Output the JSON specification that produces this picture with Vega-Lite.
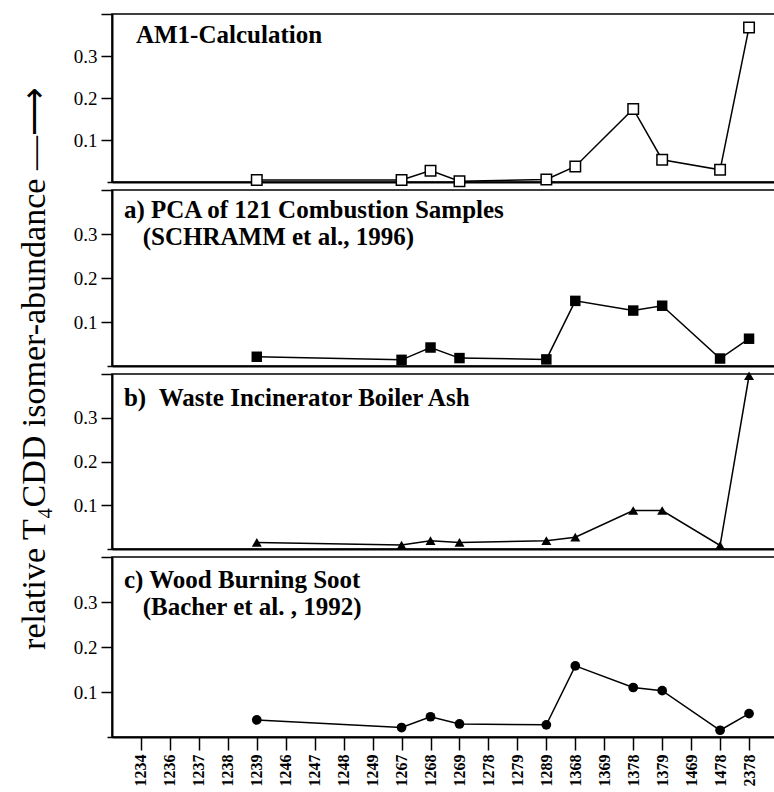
{
  "$schema": "https://vega.github.io/schema/vega-lite/v6.json",
  "padding": {"left": 16, "top": 12, "right": 0, "bottom": 0},
  "background": "white",
  "spacing": 8,
  "bounds": "flush",
  "config": {
    "view": {"stroke": "black", "strokeWidth": 1.5},
    "font": "Liberation Serif",
    "axis": {
      "labelFont": "Liberation Serif",
      "titleFont": "Liberation Serif",
      "domainColor": "black",
      "tickColor": "black",
      "labelColor": "black",
      "titleColor": "black",
      "grid": false
    },
    "axisY": {
      "values": [0.02,0.04,0.06,0.08,0.1,0.12,0.14,0.16,0.18,0.2,0.22,0.24,0.26,0.28,0.3,0.32,0.34,0.36,0.38,0.4],
      "labelExpr": "datum.value==0.1||datum.value==0.2||datum.value==0.3 ? format(datum.value,'.1f') : ''",
      "tickSize": {"condition": {"test": "datum.value==0.1||datum.value==0.2||datum.value==0.3||datum.value==0.4", "value": 11}, "value": 5},
      "tickWidth": 1.5, "domainWidth": 2, "labelFontSize": 19, "labelPadding": 4
    },
    "axisX": {"domainWidth": 2}
  },
  "datasets": {
    "am1": [
      {"isomer": "1239", "value": 0.005},
      {"isomer": "1267", "value": 0.005},
      {"isomer": "1268", "value": 0.027},
      {"isomer": "1269", "value": 0.002},
      {"isomer": "1289", "value": 0.006},
      {"isomer": "1368", "value": 0.037},
      {"isomer": "1378", "value": 0.174},
      {"isomer": "1379", "value": 0.053},
      {"isomer": "1478", "value": 0.029},
      {"isomer": "2378", "value": 0.368}
    ],
    "pca": [
      {"isomer": "1239", "value": 0.021},
      {"isomer": "1267", "value": 0.014},
      {"isomer": "1268", "value": 0.042},
      {"isomer": "1269", "value": 0.018},
      {"isomer": "1289", "value": 0.015},
      {"isomer": "1368", "value": 0.148},
      {"isomer": "1378", "value": 0.126},
      {"isomer": "1379", "value": 0.137},
      {"isomer": "1478", "value": 0.017},
      {"isomer": "2378", "value": 0.062}
    ],
    "ash": [
      {"isomer": "1239", "value": 0.015},
      {"isomer": "1267", "value": 0.009},
      {"isomer": "1268", "value": 0.019},
      {"isomer": "1269", "value": 0.015},
      {"isomer": "1289", "value": 0.019},
      {"isomer": "1368", "value": 0.027},
      {"isomer": "1378", "value": 0.088},
      {"isomer": "1379", "value": 0.088},
      {"isomer": "1478", "value": 0.008},
      {"isomer": "2378", "value": 0.396}
    ],
    "soot": [
      {"isomer": "1239", "value": 0.038},
      {"isomer": "1267", "value": 0.021},
      {"isomer": "1268", "value": 0.045},
      {"isomer": "1269", "value": 0.029},
      {"isomer": "1289", "value": 0.027},
      {"isomer": "1368", "value": 0.158},
      {"isomer": "1378", "value": 0.110},
      {"isomer": "1379", "value": 0.103},
      {"isomer": "1478", "value": 0.015},
      {"isomer": "2378", "value": 0.052}
    ]
  },
  "vconcat": [
    {
      "width": 666,
      "height": 168,
      "layer": [
        {"data": {"name": "am1"}, "mark": {"type": "line", "color": "black", "strokeWidth": 1.5},
          "encoding": {
            "x": {"field": "isomer", "type": "ordinal",
              "scale": {"type": "point", "padding": 1.04, "domain": ["1234","1236","1237","1238","1239","1246","1247","1248","1249","1267","1268","1269","1278","1279","1289","1368","1369","1378","1379","1469","1478","2378"]},
              "axis": {"title": null, "labels": false, "ticks": false}},
            "y": {"field": "value", "type": "quantitative", "scale": {"domain": [0, 0.4], "nice": false}, "axis": {"title": null}}
          }},
        {"data": {"name": "am1"}, "mark": {"type": "point", "shape": "square", "filled": true, "fill": "white", "stroke": "black", "strokeWidth": 1.5, "size": 110, "opacity": 1},
          "encoding": {"x": {"field": "isomer", "type": "ordinal", "axis": {"title": null, "labels": false, "ticks": false}}, "y": {"field": "value", "type": "quantitative", "axis": {"title": null}}}},
        {"data": {"values": [{"panel": "AM1"}]},
          "mark": {"type": "text", "text": "AM1-Calculation", "align": "left", "baseline": "top", "dx": -5, "dy": 9, "fontSize": 25, "fontWeight": "bold", "font": "Liberation Serif", "color": "black"},
          "encoding": {"x": {"datum": "1234", "type": "ordinal", "axis": {"title": null, "labels": false, "ticks": false}}, "y": {"datum": 0.4, "type": "quantitative", "axis": {"title": null}}}}
      ]
    },
    {
      "width": 666,
      "height": 176,
      "layer": [
        {"data": {"name": "pca"}, "mark": {"type": "line", "color": "black", "strokeWidth": 1.5},
          "encoding": {
            "x": {"field": "isomer", "type": "ordinal",
              "scale": {"type": "point", "padding": 1.04, "domain": ["1234","1236","1237","1238","1239","1246","1247","1248","1249","1267","1268","1269","1278","1279","1289","1368","1369","1378","1379","1469","1478","2378"]},
              "axis": {"title": null, "labels": false, "ticks": false}},
            "y": {"field": "value", "type": "quantitative", "scale": {"domain": [0, 0.4], "nice": false},
              "axis": {"title": "relative T₄CDD isomer-abundance —⟶", "titleFontSize": 34, "titleFontWeight": "normal", "titleY": 178, "titlePadding": 22}}
          }},
        {"data": {"name": "pca"}, "mark": {"type": "point", "shape": "square", "filled": true, "color": "black", "size": 110, "opacity": 1},
          "encoding": {"x": {"field": "isomer", "type": "ordinal", "axis": {"title": null, "labels": false, "ticks": false}},
            "y": {"field": "value", "type": "quantitative", "axis": {"title": "relative T₄CDD isomer-abundance —⟶", "titleFontSize": 34, "titleFontWeight": "normal", "titleY": 178, "titlePadding": 22}}}},
        {"data": {"values": [{"panel": "a"}]},
          "mark": {"type": "text", "text": ["a) PCA of 121 Combustion Samples", "\u200b\u00a0\u00a0\u00a0(SCHRAMM et al., 1996)"], "lineHeight": 27, "align": "left", "baseline": "top", "dx": -17, "dy": 8, "fontSize": 25, "fontWeight": "bold", "font": "Liberation Serif", "color": "black"},
          "encoding": {"x": {"datum": "1234", "type": "ordinal", "axis": {"title": null, "labels": false, "ticks": false}},
            "y": {"datum": 0.4, "type": "quantitative", "axis": {"title": "relative T₄CDD isomer-abundance —⟶", "titleFontSize": 34, "titleFontWeight": "normal", "titleY": 178, "titlePadding": 22}}}}
      ]
    },
    {
      "width": 666,
      "height": 175,
      "layer": [
        {"data": {"name": "ash"}, "mark": {"type": "line", "color": "black", "strokeWidth": 1.5},
          "encoding": {
            "x": {"field": "isomer", "type": "ordinal",
              "scale": {"type": "point", "padding": 1.04, "domain": ["1234","1236","1237","1238","1239","1246","1247","1248","1249","1267","1268","1269","1278","1279","1289","1368","1369","1378","1379","1469","1478","2378"]},
              "axis": {"title": null, "labels": false, "ticks": false}},
            "y": {"field": "value", "type": "quantitative", "scale": {"domain": [0, 0.4], "nice": false}, "axis": {"title": null}}
          }},
        {"data": {"name": "ash"}, "mark": {"type": "point", "shape": "triangle-up", "filled": true, "color": "black", "size": 100, "opacity": 1},
          "encoding": {"x": {"field": "isomer", "type": "ordinal", "axis": {"title": null, "labels": false, "ticks": false}}, "y": {"field": "value", "type": "quantitative", "axis": {"title": null}}}},
        {"data": {"values": [{"panel": "b"}]},
          "mark": {"type": "text", "text": "b)\u00a0\u00a0Waste Incinerator Boiler Ash", "align": "left", "baseline": "top", "dx": -17, "dy": 12, "fontSize": 25, "fontWeight": "bold", "font": "Liberation Serif", "color": "black"},
          "encoding": {"x": {"datum": "1234", "type": "ordinal", "axis": {"title": null, "labels": false, "ticks": false}}, "y": {"datum": 0.4, "type": "quantitative", "axis": {"title": null}}}}
      ]
    },
    {
      "width": 666,
      "height": 180,
      "layer": [
        {"data": {"name": "soot"}, "mark": {"type": "line", "color": "black", "strokeWidth": 1.5},
          "encoding": {
            "x": {"field": "isomer", "type": "ordinal",
              "scale": {"type": "point", "padding": 1.04, "domain": ["1234","1236","1237","1238","1239","1246","1247","1248","1249","1267","1268","1269","1278","1279","1289","1368","1369","1378","1379","1469","1478","2378"]},
              "axis": {"title": null, "labelAngle": 270, "labelFontSize": 16, "labelFontWeight": "bold", "tickSize": 13, "tickWidth": 1.5, "labelPadding": 4}},
            "y": {"field": "value", "type": "quantitative", "scale": {"domain": [0, 0.4], "nice": false}, "axis": {"title": null}}
          }},
        {"data": {"name": "soot"}, "mark": {"type": "point", "shape": "circle", "filled": true, "color": "black", "size": 95, "opacity": 1},
          "encoding": {"x": {"field": "isomer", "type": "ordinal", "axis": {"title": null, "labelAngle": 270, "labelFontSize": 16, "labelFontWeight": "bold", "tickSize": 13, "tickWidth": 1.5, "labelPadding": 4}},
            "y": {"field": "value", "type": "quantitative", "axis": {"title": null}}}},
        {"data": {"values": [{"panel": "c"}]},
          "mark": {"type": "text", "text": ["c) Wood Burning Soot", "\u200b\u00a0\u00a0\u00a0(Bacher et al. , 1992)"], "lineHeight": 27, "align": "left", "baseline": "top", "dx": -17, "dy": 11, "fontSize": 25, "fontWeight": "bold", "font": "Liberation Serif", "color": "black"},
          "encoding": {"x": {"datum": "1234", "type": "ordinal", "axis": {"title": null, "labelAngle": 270, "labelFontSize": 16, "labelFontWeight": "bold", "tickSize": 13, "tickWidth": 1.5, "labelPadding": 4}},
            "y": {"datum": 0.4, "type": "quantitative", "axis": {"title": null}}}}
      ]
    }
  ]
}
